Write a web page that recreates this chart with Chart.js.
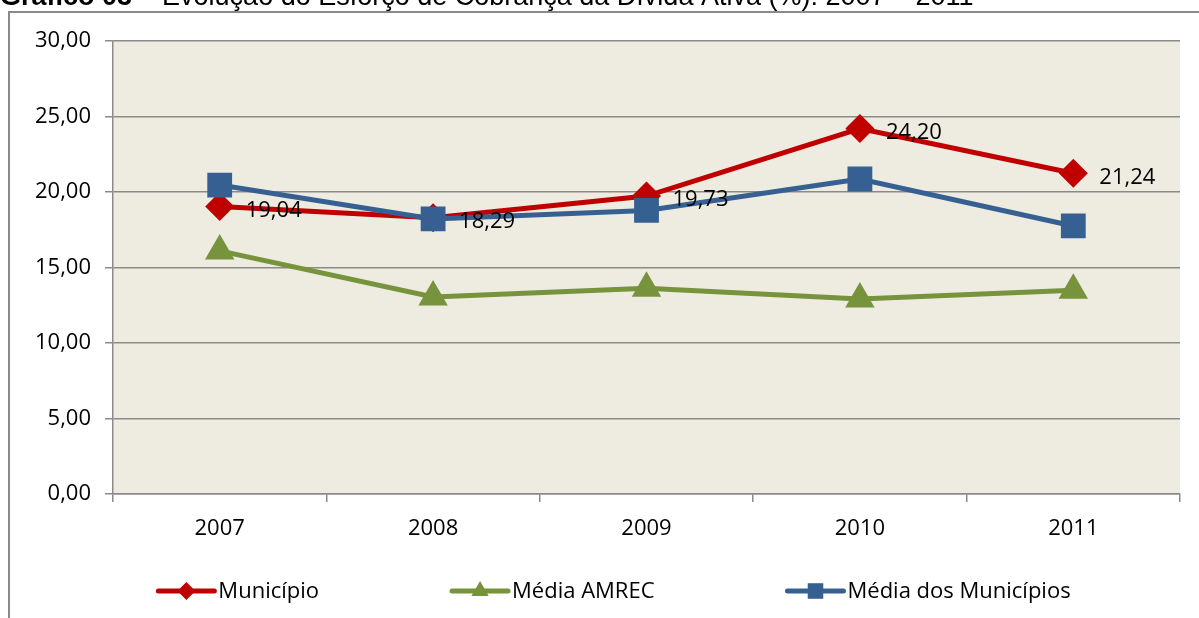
<!DOCTYPE html>
<html lang="pt">
  <head>
    <meta charset="UTF-8" />
    <title>Gráfico 03</title>
    <style>
      html, body { margin: 0; padding: 0; background: #fff; }
      #wrap { width: 1199px; height: 618px; }
    </style>
  </head>
  <body>
    <div id="wrap"><canvas id="myChart" width="1199" height="618"></canvas></div>
    <script src="https://cdn.jsdelivr.net/npm/chart.js"></script>
    <script>
      // data
      const anos = ["2007", "2008", "2009", "2010", "2011"];
      const municipio = [19.04, 18.29, 19.73, 24.2, 21.24];
      const mediaAmrec = [16.1, 13.05, 13.62, 12.91, 13.5];
      const mediaMunicipios = [20.46, 18.22, 18.78, 20.86, 17.75];
      const yTicks = [0, 5, 10, 15, 20, 25, 30];

      const RED = "#C00000";
      const GREEN = "#77933C";
      const BLUE = "#376092";
      const GRID = "#8a8a8a";
      const FONT = "'Open Sans', 'Noto Sans', sans-serif";

      const fmt = (v) => v.toFixed(2).replace(".", ",");

      // frame, title and plot background
      const backdrop = {
        id: "backdrop",
        beforeDraw: (chart) => {
          const ctx = chart.ctx;
          const a = chart.chartArea;
          ctx.save();
          ctx.fillStyle = "#fff";
          ctx.fillRect(0, 0, chart.width, chart.height);
          // title (cut by the top edge, as in the source)
          ctx.fillStyle = "#000";
          ctx.textBaseline = "alphabetic";
          ctx.font = "bold 27px 'Liberation Sans', Arial, sans-serif";
          const t1 = "Gráfico 03";
          ctx.fillText(t1, 0, 5);
          const w1 = ctx.measureText(t1).width;
          ctx.font = "27px 'Liberation Sans', Arial, sans-serif";
          ctx.fillText(" – Evolução do Esforço de Cobrança da Dívida Ativa (%): 2007 – 2011", w1, 5);
          // outer box
          ctx.strokeStyle = GRID;
          ctx.lineWidth = 2;
          ctx.beginPath();
          ctx.moveTo(9, chart.height);
          ctx.lineTo(9, 12);
          ctx.lineTo(chart.width, 12);
          ctx.stroke();
          // plot area
          ctx.fillStyle = "#EEECE1";
          ctx.fillRect(a.left, a.top, a.right - a.left, a.bottom - a.top);
          ctx.restore();
        },
      };

      // value labels for Município only
      const valueLabels = {
        id: "valueLabels",
        afterDatasetsDraw: (chart) => {
          const ctx = chart.ctx;
          const idx = chart.data.datasets.findIndex((d) => d.label === "Município");
          const meta = chart.getDatasetMeta(idx);
          ctx.save();
          ctx.font = "22px " + FONT;
          ctx.fillStyle = "#000";
          ctx.textBaseline = "middle";
          ctx.textAlign = "left";
          meta.data.forEach((pt, i) => {
            ctx.fillText(fmt(chart.data.datasets[idx].data[i]), pt.x + 26, pt.y + 4);
          });
          ctx.restore();
        },
      };

      function drawMarker(ctx, style, r, x, y) {
        if (style === "rectRot") {
          ctx.moveTo(x, y - r);
          ctx.lineTo(x + r, y);
          ctx.lineTo(x, y + r);
          ctx.lineTo(x - r, y);
          ctx.closePath();
        } else if (style === "triangle") {
          ctx.moveTo(x, y - r);
          ctx.lineTo(x + r * 0.866, y + r / 2);
          ctx.lineTo(x - r * 0.866, y + r / 2);
          ctx.closePath();
        } else {
          const s = r * Math.SQRT1_2;
          ctx.rect(x - s, y - s, 2 * s, 2 * s);
        }
      }

      // legend drawn like the spreadsheet one: line with marker, then text
      const lineLegend = {
        id: "lineLegend",
        afterDraw: (chart) => {
          const ctx = chart.ctx;
          const items = chart.data.datasets.slice().sort((a, b) => a.legendPos - b.legendPos);
          const lineLen = 56;
          const gap = 132;
          const y = 591;
          ctx.save();
          ctx.font = "22px " + FONT;
          let total = 0;
          items.forEach((d, i) => {
            total += lineLen + 5 + ctx.measureText(d.label).width + (i < items.length - 1 ? gap : 0);
          });
          let x = 615 - total / 2;
          items.forEach((d) => {
            ctx.strokeStyle = d.borderColor;
            ctx.lineWidth = 5;
            ctx.lineCap = "round";
            ctx.beginPath();
            ctx.moveTo(x, y);
            ctx.lineTo(x + lineLen, y);
            ctx.stroke();
            ctx.fillStyle = d.borderColor;
            ctx.beginPath();
            drawMarker(ctx, d.pointStyle, d.legendMarker, x + lineLen / 2, y);
            ctx.fill();
            ctx.fillStyle = "#000";
            ctx.textBaseline = "middle";
            ctx.fillText(d.label, x + lineLen + 4, y + 1);
            x += lineLen + 5 + ctx.measureText(d.label).width + gap;
          });
          ctx.restore();
        },
      };

      const ctx = document.getElementById("myChart").getContext("2d");

      const myChart = new Chart(ctx, {
        type: "line",
        plugins: [backdrop, valueLabels, lineLegend],
        data: {
          labels: anos,
          datasets: [
            {
              label: "Município",
              data: municipio,
              borderColor: RED,
              backgroundColor: RED,
              pointStyle: "rectRot",
              pointRadius: 11,
              borderWidth: 5,
              order: 1,
              legendPos: 0,
              legendMarker: 9,
            },
            {
              label: "Média AMREC",
              data: mediaAmrec,
              borderColor: GREEN,
              backgroundColor: GREEN,
              pointStyle: "triangle",
              pointRadius: 12,
              borderWidth: 5,
              order: 2,
              legendPos: 1,
              legendMarker: 10,
            },
            {
              label: "Média dos Municípios",
              data: mediaMunicipios,
              borderColor: BLUE,
              backgroundColor: BLUE,
              pointStyle: "rect",
              pointRadius: 14,
              borderWidth: 5,
              order: 0,
              legendPos: 2,
              legendMarker: 11,
            },
          ],
        },
        options: {
          responsive: false,
          animation: false,
          layout: { padding: { top: 41, right: 18, left: 0, bottom: 0 } },
          elements: {
            line: { tension: 0 },
            point: { borderWidth: 1, hoverRadius: 12 },
          },
          scales: {
            x: {
              offset: true,
              afterFit: (scale) => {
                scale.height = 124;
              },
              grid: {
                offset: true,
                drawOnChartArea: false,
                drawTicks: true,
                tickLength: 8,
                color: GRID,
                lineWidth: 1.5,
              },
              border: { display: true, color: GRID, width: 1.5 },
              ticks: {
                color: "#000",
                font: { family: FONT, size: 22 },
                padding: 14,
                maxRotation: 0,
              },
            },
            y: {
              min: 0,
              max: 30,
              afterFit: (scale) => {
                scale.width = 113;
              },
              afterBuildTicks: (scale) => {
                scale.ticks = yTicks.map((v) => ({ value: v }));
              },
              grid: {
                color: GRID,
                lineWidth: 1.5,
                drawTicks: true,
                tickLength: 8,
              },
              border: { display: true, color: GRID, width: 1.5 },
              ticks: {
                color: "#000",
                font: { family: FONT, size: 22 },
                padding: 14,
                callback: (v) => fmt(v),
              },
            },
          },
          plugins: {
            legend: { display: false },
            tooltip: { enabled: false },
          },
        },
      });
    </script>
  </body>
</html>
